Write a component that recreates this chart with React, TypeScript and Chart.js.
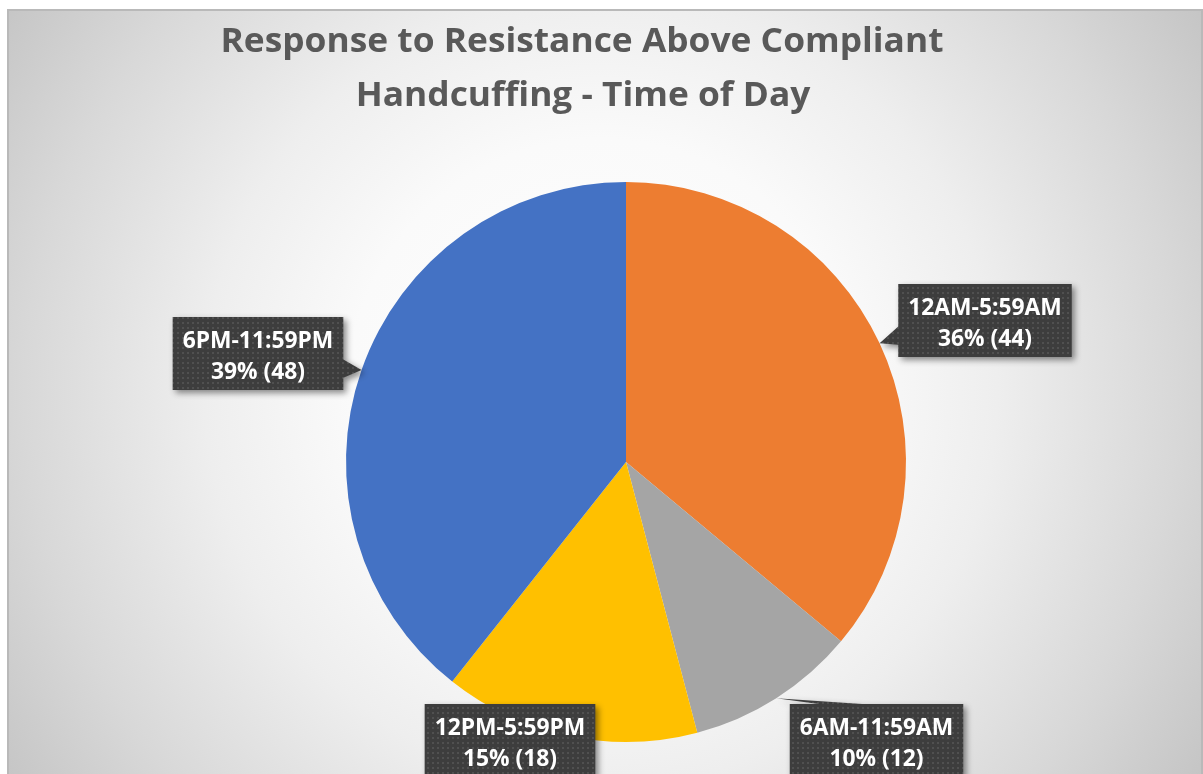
import React, { useEffect, useRef } from 'react';
import { Chart, registerables } from 'chart.js';

Chart.register(...registerables);

// ---- data ----
const categories = ['12AM-5:59AM', '6AM-11:59AM', '12PM-5:59PM', '6PM-11:59PM'];
const counts = [44, 12, 18, 48];
const sliceColors = ['#ED7D31', '#A5A5A5', '#FFC000', '#4472C4'];
const titleLines = ['Response to Resistance Above Compliant', 'Handcuffing - Time of Day'];

// ---- layout (label box centres relative to pie centre) ----
const labelOffsets: [number, number][] = [
  [359, -141.5],
  [250.5, 278.5],
  [-116, 278.5],
  [-368, -108.5],
];

const FONT = '"Open Sans", "Liberation Sans", sans-serif';

function makePattern(ctx: CanvasRenderingContext2D) {
  const c = document.createElement('canvas');
  c.width = 5;
  c.height = 5;
  const p = c.getContext('2d')!;
  p.fillStyle = '#3d3d3d';
  p.fillRect(0, 0, 5, 5);
  p.fillStyle = '#505050';
  p.fillRect(2, 2, 2, 2);
  return ctx.createPattern(c, 'repeat')!;
}

const backgroundPlugin = {
  id: 'bgPlugin',
  beforeDraw(chart: any) {
    const ctx: CanvasRenderingContext2D = chart.ctx;
    const W = chart.width;
    const H = chart.height;
    ctx.save();
    ctx.fillStyle = '#ffffff';
    ctx.fillRect(0, 0, W, H);
    const g = ctx.createRadialGradient(601, 391, 0, 601, 391, 720);
    g.addColorStop(0, '#ffffff');
    g.addColorStop(0.35, '#fafafa');
    g.addColorStop(0.55, '#eeeeee');
    g.addColorStop(0.8, '#d8d8d8');
    g.addColorStop(1, '#c4c4c4');
    ctx.fillStyle = g;
    ctx.fillRect(7, 9, W - 7, H - 9);
    ctx.strokeStyle = '#b9b9b9';
    ctx.lineWidth = 2;
    ctx.strokeRect(8, 10, W - 9, H + 10);
    ctx.restore();
  },
};

function calloutPath(
  ctx: CanvasRenderingContext2D,
  l: number, t: number, w: number, h: number,
  tx: number, ty: number
) {
  const r = l + w, b = t + h;
  const hc = l + w / 2, vc = t + h / 2;
  const inside = tx >= l && tx <= r && ty >= t && ty <= b;
  const dx = tx - hc, dy = ty - vc;
  const dq = (dx * h) / w;
  const dz = Math.abs(dy) - Math.abs(dq);
  const xl = l + (w * (dx > 0 ? 7 : 2)) / 12;
  const xr = l + (w * (dx > 0 ? 10 : 5)) / 12;
  const yt = t + (h * (dy > 0 ? 7 : 2)) / 12;
  const yb = t + (h * (dy > 0 ? 10 : 5)) / 12;
  let side = 'none';
  if (!inside) {
    if (dz > 0) side = dy > 0 ? 'bottom' : 'top';
    else side = dx > 0 ? 'right' : 'left';
  }
  ctx.beginPath();
  ctx.moveTo(l, t);
  if (side === 'top') {
    ctx.lineTo(xl, t);
    ctx.lineTo(tx, ty);
    ctx.lineTo(xr, t);
  }
  ctx.lineTo(r, t);
  if (side === 'right') {
    ctx.lineTo(r, yt);
    ctx.lineTo(tx, ty);
    ctx.lineTo(r, yb);
  }
  ctx.lineTo(r, b);
  if (side === 'bottom') {
    ctx.lineTo(xr, b);
    ctx.lineTo(tx, ty);
    ctx.lineTo(xl, b);
  }
  ctx.lineTo(l, b);
  if (side === 'left') {
    ctx.lineTo(l, yb);
    ctx.lineTo(tx, ty);
    ctx.lineTo(l, yt);
  }
  ctx.closePath();
}

const labelPlugin = {
  id: 'labelPlugin',
  afterDraw(chart: any) {
    const ctx: CanvasRenderingContext2D = chart.ctx;
    const meta = chart.getDatasetMeta(0);
    const total = counts.reduce((a, v) => a + v, 0);
    const pattern = makePattern(ctx);

    // title (slightly condensed to mimic Calibri proportions)
    ctx.save();
    ctx.fillStyle = '#595959';
    ctx.textAlign = 'center';
    ctx.textBaseline = 'alphabetic';
    ctx.font = `bold 34px ${FONT}`;
    const sx = 723 / ctx.measureText(titleLines[0]).width;
    ctx.save();
    ctx.translate(582, 52);
    ctx.scale(sx, 1);
    ctx.fillText(titleLines[0], 0, 0);
    ctx.restore();
    ctx.save();
    ctx.translate(583, 106);
    ctx.scale(sx, 1);
    ctx.fillText(titleLines[1], 0, 0);
    ctx.restore();
    ctx.restore();

    meta.data.forEach((arc: any, i: number) => {
      const p = arc.getProps(['x', 'y', 'startAngle', 'endAngle', 'outerRadius'], true);
      const mid = (p.startAngle + p.endAngle) / 2;
      const tx = p.x + Math.cos(mid) * p.outerRadius;
      const ty = p.y + Math.sin(mid) * p.outerRadius;
      const line1 = categories[i];
      const line2 = `${Math.round((counts[i] / total) * 100)}% (${counts[i]})`;
      ctx.save();
      ctx.font = `bold 24px ${FONT}`;
      const lsx = 0.95;
      const tw = Math.max(ctx.measureText(line1).width, ctx.measureText(line2).width) * lsx;
      const w = tw + 20;
      const h = 73;
      const cx = p.x + labelOffsets[i][0];
      const cy = p.y + labelOffsets[i][1];
      const l = cx - w / 2;
      const t = cy - h / 2;
      calloutPath(ctx, l, t, w, h, tx, ty);
      ctx.shadowColor = 'rgba(0,0,0,0.45)';
      ctx.shadowBlur = 6;
      ctx.shadowOffsetX = 3;
      ctx.shadowOffsetY = 3;
      ctx.fillStyle = pattern;
      ctx.fill();
      ctx.shadowColor = 'transparent';
      ctx.fillStyle = '#ffffff';
      ctx.textAlign = 'center';
      ctx.textBaseline = 'alphabetic';
      ctx.save();
      ctx.translate(cx, t + 31);
      ctx.scale(lsx, 1);
      ctx.fillText(line1, 0, 0);
      ctx.restore();
      ctx.save();
      ctx.translate(cx, t + 62);
      ctx.scale(lsx, 1);
      ctx.fillText(line2, 0, 0);
      ctx.restore();
      ctx.restore();
    });
  },
};

export default function App() {
  const ref = useRef<HTMLCanvasElement>(null);
  useEffect(() => {
    document.body.style.margin = '0';
    const chart = new Chart(ref.current!, {
      type: 'pie',
      data: {
        labels: categories,
        datasets: [
          {
            data: counts,
            backgroundColor: sliceColors,
            borderWidth: 0,
            hoverOffset: 0,
          },
        ],
      },
      options: {
        responsive: false,
        animation: false,
        events: [],
        layout: { padding: { left: 346, right: 297, top: 182, bottom: 32 } },
        plugins: {
          legend: { display: false },
          title: { display: false },
          tooltip: { enabled: false },
        },
      },
      plugins: [backgroundPlugin, labelPlugin],
    });
    return () => chart.destroy();
  }, []);
  return (
    <div style={{ width: 1203, height: 774 }}>
      <canvas ref={ref} width={1203} height={774} style={{ display: 'block' }} />
    </div>
  );
}
